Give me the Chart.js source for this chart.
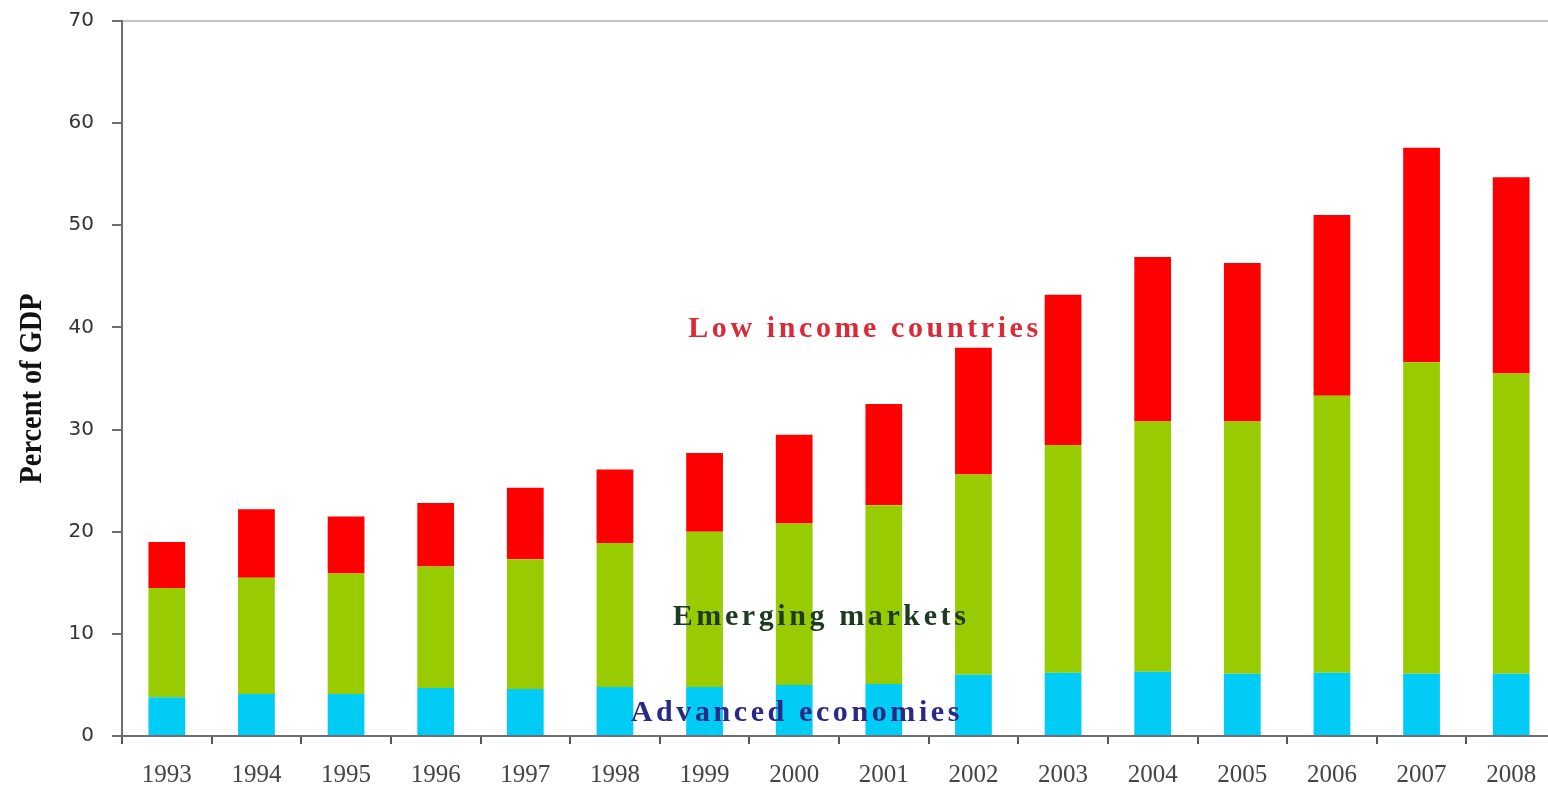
<!DOCTYPE html>
<html>
<head>
<meta charset="utf-8">
<script src="https://cdn.jsdelivr.net/npm/chart.js@4.4.0/dist/chart.umd.min.js"></script>
<style>
  html, body { margin: 0; padding: 0; background: #fff; overflow: hidden; }
  #wrap { width: 1556px; height: 793px; }
</style>
</head>
<body>
<div id="wrap"><canvas id="gdpChart" width="1556" height="793"></canvas></div>
<script>
// Años y series (porcentaje del PIB)
const years = ['1993', '1994', '1995', '1996', '1997', '1998', '1999', '2000',
               '2001', '2002', '2003', '2004', '2005', '2006', '2007', '2008'];
const advanced = [3.8, 4.1, 4.1, 4.7, 4.6, 4.8, 4.8, 5.0, 5.1, 6.0, 6.2, 6.3, 6.1, 6.2, 6.1, 6.1];
const emerging = [10.7, 11.4, 11.8, 11.9, 12.7, 14.1, 15.2, 15.8, 17.5, 19.6, 22.3, 24.5, 24.7, 27.1, 30.5, 29.4];
const lowIncome = [4.5, 6.7, 5.6, 6.2, 7.0, 7.2, 7.7, 8.7, 9.9, 12.4, 14.7, 16.1, 15.5, 17.7, 21.0, 19.2];
const yTicks = [0, 10, 20, 30, 40, 50, 60, 70];
const yTitle = 'Percent of GDP';

// etiquetas dentro del gráfico: [texto, índice x, valor y, color]
const seriesLabels = [
    ['Low income countries', 7.79, 39.8, '#d82a38'],
    ['Emerging markets', 7.3, 11.6, '#1e3a20'],
    ['Advanced economies', 7.03, 2.2, '#2a2a86']
];

const labelPlugin = {
    id: 'seriesLabels',
    beforeDraw(chart) {
        // línea superior del área del gráfico
        const { ctx, chartArea } = chart;
        ctx.save();
        ctx.strokeStyle = '#c4c4c4';
        ctx.lineWidth = 2;
        ctx.beginPath();
        ctx.moveTo(chartArea.left, chartArea.top);
        ctx.lineTo(chartArea.right, chartArea.top);
        ctx.stroke();
        ctx.restore();
    },
    afterDatasetsDraw(chart) {
        const ctx = chart.ctx;
        const xs = chart.scales.x, ys = chart.scales.y;
        ctx.save();
        ctx.font = 'bold 30px "Liberation Serif", serif';
        ctx.letterSpacing = '3.6px';
        ctx.textAlign = 'center';
        ctx.textBaseline = 'middle';
        seriesLabels.forEach(([txt, xi, yv, col]) => {
            ctx.fillStyle = col;
            ctx.fillText(txt, xs.getPixelForValue(xi), ys.getPixelForValue(yv));
        });
        ctx.restore();

        // título del eje Y, estrecho y alto
        const mid = (chart.chartArea.top + chart.chartArea.bottom) / 2;
        ctx.save();
        ctx.font = 'bold 31px "Liberation Serif", serif';
        const w = ctx.measureText(yTitle).width;
        ctx.translate(33, mid + 10);
        ctx.rotate(-Math.PI / 2);
        ctx.scale(190 / w, 1);
        ctx.fillStyle = '#111';
        ctx.textAlign = 'center';
        ctx.textBaseline = 'middle';
        ctx.fillText(yTitle, 0, 0);
        ctx.restore();
    }
};

const gdpChart = new Chart(document.getElementById('gdpChart'), {
    type: 'bar',
    data: {
        labels: years,
        datasets: [{
            label: 'Advanced economies',
            data: advanced,
            backgroundColor: '#00ccf5'
        }, {
            label: 'Emerging markets',
            data: emerging,
            backgroundColor: '#99cc00'
        }, {
            label: 'Low income countries',
            data: lowIncome,
            backgroundColor: '#ff0000'
        }]
    },
    options: {
        responsive: false,
        animation: false,
        devicePixelRatio: 1,
        layout: { padding: { top: 21, right: 0, left: 0, bottom: 0 } },
        datasets: { bar: { categoryPercentage: 1, barPercentage: 0.41 } },
        plugins: {
            legend: { display: false },
            tooltip: { enabled: false }
        },
        scales: {
            x: {
                stacked: true,
                offset: true,
                grid: { offset: true, drawOnChartArea: false, drawTicks: true, tickLength: 8, color: '#555', lineWidth: 2 },
                border: { color: '#6e6e6e', width: 2 },
                ticks: { color: '#444', padding: 16, font: { family: '"Liberation Serif", serif', size: 25 } },
                afterFit(scale) { scale.height = 57; scale.paddingLeft = 0; scale.paddingRight = 0; }
            },
            y: {
                stacked: true,
                min: 0,
                max: 70,
                afterBuildTicks(scale) { scale.ticks = yTicks.map(v => ({ value: v })); },
                grid: { drawOnChartArea: false, drawTicks: true, tickLength: 10, color: '#6e6e6e', lineWidth: 2 },
                border: { color: '#6e6e6e', width: 2 },
                ticks: { color: '#333', padding: 18, font: { family: '"DejaVu Sans", sans-serif', size: 20 } },
                afterFit(scale) { scale.width = 122; scale.paddingTop = 0; scale.paddingBottom = 0; }
            }
        }
    },
    plugins: [labelPlugin]
});
</script>
</body>
</html>
